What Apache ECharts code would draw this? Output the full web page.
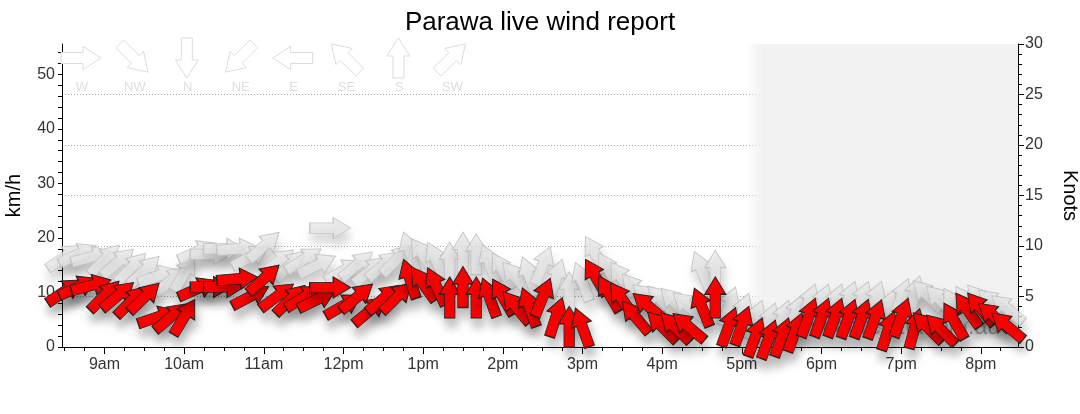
<!DOCTYPE html>
<html>
<head>
<meta charset="utf-8">
<title>Parawa live wind report</title>
<script src="https://cdn.jsdelivr.net/npm/echarts@6/dist/echarts.min.js"></script>
<style>
  html, body { margin: 0; padding: 0; background: #fff; }
  #main { width: 1080px; height: 414px; }
</style>
</head>
<body>
<div id="main"></div>
<script>
// readings, every 10 minutes
var times = ['08:30','08:40','08:50','09:00','09:10','09:20','09:30','09:40','09:50','10:00',
  '10:10','10:20','10:30','10:40','10:50','11:00','11:10','11:20','11:30','11:40',
  '11:50','12:00','12:10','12:20','12:30','12:40','12:50','13:00','13:10','13:20',
  '13:30','13:40','13:50','14:00','14:10','14:20','14:30','14:40','14:50','15:00',
  '15:10','15:20','15:30','15:40','15:50','16:00','16:10','16:20','16:30','16:40',
  '16:50','17:00','17:10','17:20','17:30','17:40','17:50','18:00','18:10','18:20',
  '18:30','18:40','18:50','19:00','19:10','19:20','19:30','19:40','19:50','20:00',
  '20:10','20:20'];

// mean wind, km/h
var windKmh = [10.2, 11.0, 11.3, 9.4, 9.4, 8.4, 9.1, 5.5, 5.5, 5.5,
  10.7, 11.0, 11.0, 12.5, 9.3, 12.5, 9.3, 8.7, 9.1, 8.7,
  10.9, 7.6, 9.1, 6.7, 8.9, 9.1, 12.5, 11.6, 11.1, 9.1,
  11.0, 9.1, 9.1, 9.2, 7.3, 7.3, 9.1, 5.5, 3.7, 3.6,
  12.8, 9.8, 8.7, 5.5, 7.4, 3.7, 3.6, 3.7, 7.3, 9.1,
  3.7, 3.9, 1.8, 1.4, 1.8, 2.7, 5.4, 5.4, 5.4, 5.2,
  5.2, 5.1, 3.0, 5.4, 3.4, 3.6, 3.2, 4.8, 6.8, 7.0,
  5.6, 3.8];

// gusts, km/h
var gustKmh = [16.5, 17.0, 16.5, 16.0, 15.5, 14.5, 14.0, 13.0, 12.2, 13.5,
  17.5, 17.0, 18.0, 18.0, 16.5, 18.5, 15.5, 15.0, 16.0, 15.0,
  21.8, 14.0, 15.0, 14.0, 15.0, 16.0, 17.5, 16.8, 15.8, 15.5,
  17.3, 17.0, 15.3, 14.0, 12.7, 13.0, 14.9, 12.5, 10.0, 12.0,
  17.0, 14.0, 12.5, 10.5, 9.0, 8.5, 8.1, 7.5, 14.0, 14.0,
  7.5, 6.3, 5.0, 4.5, 5.0, 6.0, 8.0, 8.0, 8.0, 8.5,
  8.5, 8.5, 7.0, 9.0, 9.4, 9.5, 8.5, 7.5, 8.0, 8.5,
  8.0, 7.0];

// direction the wind comes from, degrees
var windFrom = [236, 245, 255, 225, 230, 225, 226, 251, 230, 211,
  246, 270, 270, 265, 242, 228, 233, 226, 238, 244,
  270, 240, 230, 230, 230, 225, 162, 145, 155, 180,
  180, 180, 160, 150, 140, 160, 202, 198, 180, 160,
  150, 150, 145, 140, 130, 135, 135, 130, 158, 180,
  200, 200, 200, 200, 200, 200, 200, 200, 200, 200,
  200, 200, 198, 200, 195, 135, 135, 150, 145, 140,
  130, 130];

var hourLabels = ['9am','10am','11am','12pm','1pm','2pm','3pm','4pm','5pm','6pm','7pm','8pm'];
var legendDirs = ['W','NW','N','NE','E','SE','S','SW'];
var legendFrom = [270, 315, 0, 45, 90, 135, 180, 225];

var ARROW = 'M10,0 L20,17 L15,17 L15,40 L5,40 L5,17 L0,17 Z';
// same outline, centred on 0,0, for the direction key
var ARROW_PTS = [[0, -20], [11.5, -2], [5.5, -2], [5.5, 20], [-5.5, 20], [-5.5, -2], [-11.5, -2]];
var KMH_PER_KNOT = 1.852;
var tMin = 8 * 60 + 28, tMax = 20 * 60 + 28;
var nightStart = 17 * 60 + 4;

function toMinutes(s) {
  var p = s.split(':');
  return +p[0] * 60 + +p[1];
}
function labelToMinutes(l) {
  var h = parseInt(l, 10);
  var pm = l.indexOf('pm') > 0;
  if (pm && h !== 12) h += 12;
  return h * 60;
}
var hourValues = hourLabels.map(labelToMinutes);
var quarterValues = [];
for (var q = 510; q <= tMax; q += 15) quarterValues.push(q);

function arrowRot(from) {
  return -((from + 180) % 360);
}
function arrowData(speeds) {
  return times.map(function (t, i) {
    return { value: [toMinutes(t), speeds[i]], symbolRotate: arrowRot(windFrom[i]) };
  });
}
function keyArrow(cx, cy, from) {
  var a = (from + 180) * Math.PI / 180;
  var c = Math.cos(a), s = Math.sin(a);
  return ARROW_PTS.map(function (p) {
    return [cx + p[0] * c - p[1] * s, cy + p[0] * s + p[1] * c];
  });
}

var graphics = [];
legendDirs.forEach(function (d, i) {
  var cx = 81 + i * 52.9;
  graphics.push({
    type: 'polygon', z: 1, silent: true,
    shape: { points: keyArrow(cx, 58, legendFrom[i]) },
    style: { fill: '#fff', stroke: '#dcdcdc', lineWidth: 1 }
  });
  graphics.push({
    type: 'text', x: cx + 1, y: 87, z: 1, silent: true,
    style: { text: d, fill: '#dedede', font: '13px "Liberation Sans", Arial, sans-serif',
      textAlign: 'center', textVerticalAlign: 'middle', align: 'center', verticalAlign: 'middle' }
  });
});

var chart = echarts.init(document.getElementById('main'), null, { renderer: 'canvas' });

var option = {
  animation: false,
  textStyle: { fontFamily: '"Liberation Sans", Arial, sans-serif' },
  title: {
    text: 'Parawa live wind report',
    left: 'center',
    top: 5,
    textStyle: { fontSize: 26, fontWeight: 'normal', color: '#000' }
  },
  grid: { left: 62, right: 62, top: 44, bottom: 67, outerBoundsMode: 'none', containLabel: false },
  graphic: graphics,
  xAxis: [
    {
      type: 'value', min: tMin, max: tMax,
      axisLine: { lineStyle: { color: '#000' } },
      axisTick: { customValues: hourValues, length: 7, lineStyle: { color: '#000' } },
      axisLabel: {
        customValues: hourValues, color: '#333', fontSize: 16, margin: 10,
        formatter: function (v) { return hourLabels[hourValues.indexOf(v)] || ''; }
      },
      splitLine: { show: false }
    },
    {
      type: 'value', min: tMin, max: tMax, position: 'bottom',
      axisLine: { show: false },
      axisTick: { customValues: quarterValues, length: 4, lineStyle: { color: '#000' } },
      axisLabel: { show: false },
      splitLine: { show: false }
    }
  ],
  yAxis: [
    {
      type: 'value', min: 0, max: 30 * KMH_PER_KNOT, interval: 2,
      name: 'km/h', nameLocation: 'middle', nameRotate: 90, nameGap: 38,
      nameTextStyle: { fontSize: 20, color: '#000' },
      axisLine: { show: true, lineStyle: { color: '#000' } },
      axisTick: { show: true, length: 4, lineStyle: { color: '#000' } },
      axisLabel: {
        color: '#333', fontSize: 16, showMaxLabel: false, margin: 7,
        formatter: function (v) { return (Math.abs(v % 10) < 1e-6) ? String(v) : ''; }
      },
      splitLine: { show: false }
    },
    {
      type: 'value', min: 0, max: 30, interval: 5, position: 'right',
      name: 'Knots', nameLocation: 'middle', nameRotate: -90, nameGap: 42,
      nameTextStyle: { fontSize: 20, color: '#000' },
      axisLine: { show: true, lineStyle: { color: '#000' } },
      axisTick: { show: true, length: 6, lineStyle: { color: '#000' } },
      minorTick: { show: true, splitNumber: 5, length: 4, lineStyle: { color: '#000' } },
      axisLabel: { color: '#333', fontSize: 16, margin: 7 },
      splitLine: { show: true, showMinLine: false, showMaxLine: false,
        lineStyle: { color: '#aaa', type: [1, 2], width: 1 } }
    }
  ],
  series: [
    {
      name: 'night', type: 'scatter', z: 0, silent: true, data: [],
      markArea: {
        silent: true,
        data: [
          [{ xAxis: nightStart, itemStyle: { color: {
              type: 'linear', x: 0, y: 0, x2: 1, y2: 0,
              colorStops: [{ offset: 0, color: 'rgba(242,242,242,0)' }, { offset: 1, color: '#f2f2f2' }]
            } } }, { xAxis: nightStart + 10 }],
          [{ xAxis: nightStart + 10, itemStyle: { color: '#f2f2f2' },
             label: { show: true, position: 'insideBottomRight', distance: 6,
               formatter: 'seabreeze.com.au', color: '#a8a8a8', fontSize: 23,
               offset: [-12, -2] } },
           { xAxis: tMax }]
        ]
      }
    },
    {
      name: 'Gust', type: 'scatter', z: 2,
      symbol: 'path://' + ARROW, symbolSize: [21, 41],
      data: arrowData(gustKmh),
      itemStyle: {
        color: '#e6e6e6', opacity: 0.8, borderColor: '#bdbdbd', borderWidth: 1,
        shadowBlur: 10, shadowColor: 'rgba(0,0,0,0.2)', shadowOffsetX: 2, shadowOffsetY: 9
      }
    },
    {
      name: 'Wind', type: 'scatter', z: 3,
      symbol: 'path://' + ARROW, symbolSize: [21, 41],
      data: arrowData(windKmh),
      itemStyle: {
        color: '#ff0000', opacity: 1, borderColor: '#222', borderWidth: 1,
        shadowBlur: 10, shadowColor: 'rgba(0,0,0,0.28)', shadowOffsetX: 2, shadowOffsetY: 9
      }
    }
  ]
};

chart.setOption(option);
</script>
</body>
</html>
